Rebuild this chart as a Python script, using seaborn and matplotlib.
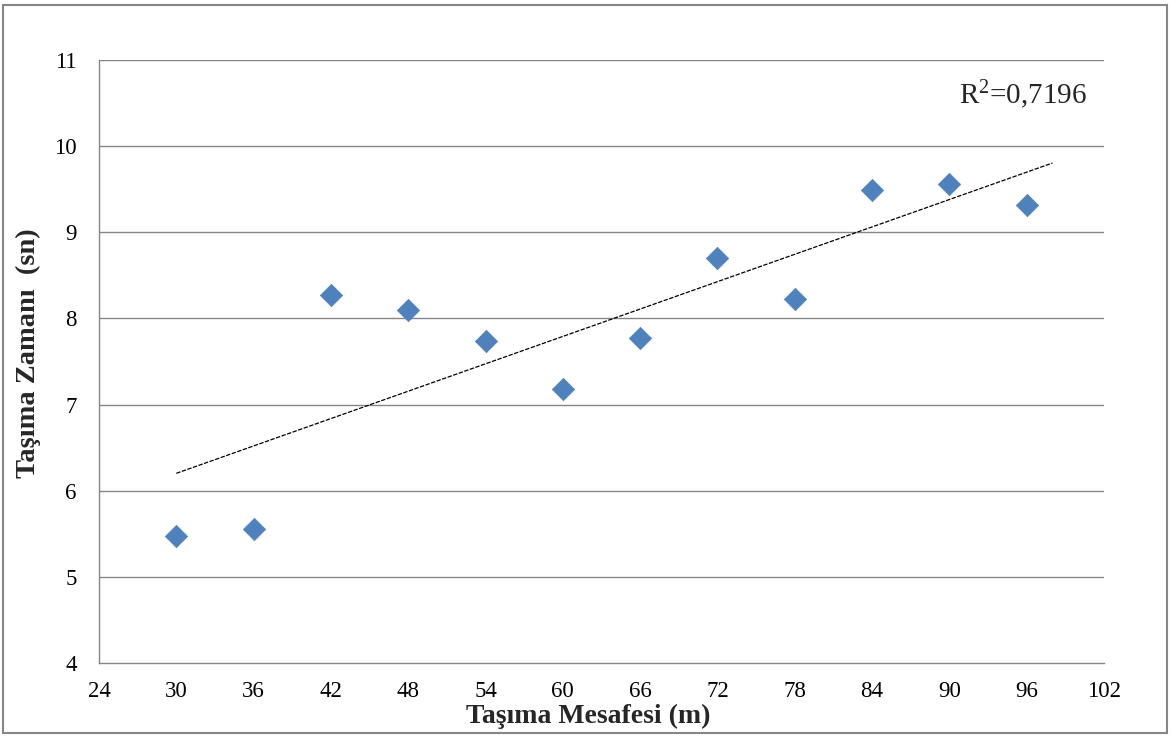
import numpy as np
import pandas as pd
import matplotlib
matplotlib.use("Agg")
import matplotlib.pyplot as plt
import seaborn as sns
from matplotlib.patches import Rectangle

# Data
distance = [30, 36, 42, 48, 54, 60, 66, 72, 78, 84, 90, 96]
time_sn = [5.48, 5.56, 8.27, 8.10, 7.74, 7.18, 7.77, 8.70, 8.23, 9.49, 9.56, 9.32]
x_ticks = [24, 30, 36, 42, 48, 54, 60, 66, 72, 78, 84, 90, 96, 102]
y_ticks = [4, 5, 6, 7, 8, 9, 10, 11]
r2_text = "R$^{2}$=0,7196"
x_label = "Taşıma Mesafesi (m)"
y_label = "Taşıma Zamanı  (sn)"
trend_end = 98

sns.set_style("white")
plt.rcParams['font.family'] = ['Liberation Serif', 'DejaVu Serif']
plt.rcParams['mathtext.default'] = 'regular'

df = pd.DataFrame({"x": distance, "y": time_sn})

fig = plt.figure(figsize=(11.7, 7.36), dpi=100)
ax = fig.add_axes([99/1170, 1 - 663/736, (1104 - 99)/1170, (663 - 60)/736])

# grid lines
for yv in y_ticks[1:]:
    ax.axhline(yv, color="#868686", lw=1.0, zorder=0)

# trend line (least squares, extended forward)
slope, intercept = np.polyfit(distance, time_sn, 1)
tx = np.array([min(distance), trend_end])
ax.plot(tx, slope * tx + intercept, color="black", lw=0.9,
        linestyle=(0, (3.5, 1.2)), zorder=2)

sns.scatterplot(data=df, x="x", y="y", marker="D", s=130, color="#4F81BD",
                edgecolor="#4F81BD", linewidth=0.5, ax=ax, zorder=3)

ax.set_xlim(24, 102)
ax.set_ylim(4, 11)
ax.set_xticks(x_ticks)
ax.set_yticks(y_ticks)
ax.tick_params(axis="both", labelsize=16.5, colors="black", direction="out",
               length=6, width=1)
ax.tick_params(axis="x", color="#868686", pad=7)
ax.tick_params(axis="y", color="#868686", pad=10)

for side in ["top", "right"]:
    ax.spines[side].set_visible(False)
for side in ["left", "bottom"]:
    ax.spines[side].set_color("#868686")
    ax.spines[side].set_linewidth(1.0)

ax.set_xlabel(x_label, fontsize=20, fontweight="bold")
ax.set_ylabel(y_label, fontsize=20.5, fontweight="bold")
ax.xaxis.set_label_coords((588 - 99) / 1005, (663 - 704) / 603)
ax.yaxis.set_label_coords((41 - 99) / 1005, (663 - 353) / 603)

ax.text(0.983, 0.942, r2_text, transform=ax.transAxes, ha="right", va="center",
        fontsize=21)

# outer border
fig.patches.append(Rectangle((3/1170, 3/736), 1 - 6/1170, 1 - 8/736,
                             transform=fig.transFigure, fill=False,
                             edgecolor="#868686", lw=1.5))

fig.savefig("out.png", dpi=100)
